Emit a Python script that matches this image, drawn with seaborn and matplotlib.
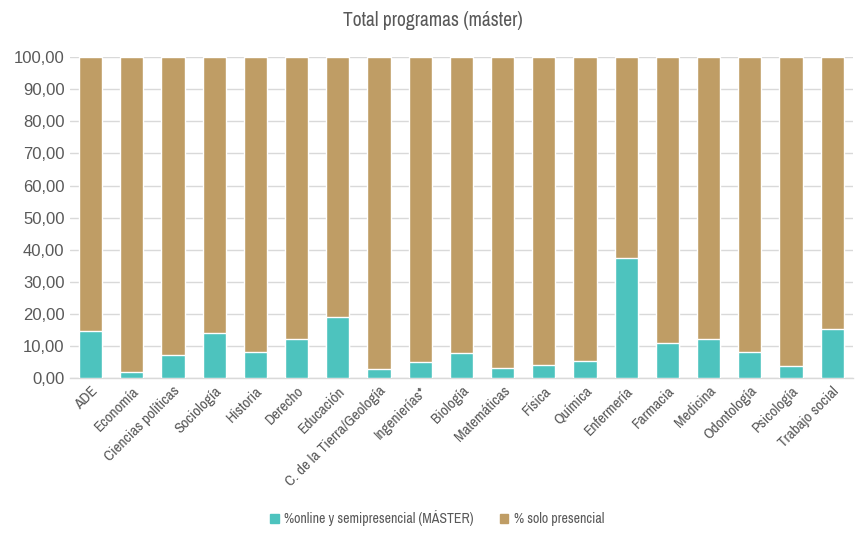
import pandas as pd
import matplotlib.pyplot as plt
import seaborn as sns
from matplotlib.patches import Patch
from matplotlib import font_manager

# --- Data ---
categories = ['ADE', 'Economía', 'Ciencias políticas', 'Sociología', 'Historia',
              'Derecho', 'Educación', 'C. de la Tierra/Geología', 'Ingenierías*',
              'Biología', 'Matemáticas', 'Física', 'Química', 'Enfermería',
              'Farmacia', 'Medicina', 'Odontología', 'Psicología', 'Trabajo social']
online = [14.6, 2.1, 7.3, 14.2, 8.3, 12.1, 19.2, 2.9, 5.2, 7.9,
          3.2, 4.1, 5.3, 37.6, 10.9, 12.2, 8.2, 3.9, 15.3]
presencial = [85.4, 97.9, 92.7, 85.8, 91.7, 87.9, 80.8, 97.1, 94.8, 92.1,
              96.8, 95.9, 94.7, 62.4, 89.1, 87.8, 91.8, 96.1, 84.7]
yticks = [0, 10, 20, 30, 40, 50, 60, 70, 80, 90, 100]

label_online = '%online y semipresencial (MÁSTER)'
label_pres = '% solo presencial'
teal = '#4DC3BE'
tan = '#BF9D65'
text_col = '#595959'

df = pd.DataFrame({'cat': categories, 'online': online, 'presencial': presencial})
df['total'] = df['online'] + df['presencial']

# look for a condensed face, otherwise just go smaller
cond = [f.name for f in font_manager.fontManager.ttflist
        if 'condensed' in f.name.lower() or 'narrow' in f.name.lower()]
narrow = [cond[0], 'DejaVu Sans'] if cond else ['DejaVu Sans']
lab_size = 11 if cond else 8

sns.set_theme(style='white')
plt.rcParams['font.family'] = ['Liberation Sans', 'DejaVu Sans']

fig = plt.figure(figsize=(8.66, 5.38), dpi=100)
ax = fig.add_axes([0.0808, 0.2968, 0.904, 0.597])

# stacked look: full bar in tan, online share drawn on top in teal
sns.barplot(data=df, x='cat', y='total', color=tan, width=0.56, saturation=1,
            ax=ax, zorder=2)
sns.barplot(data=df, x='cat', y='online', color=teal, width=0.56, saturation=1,
            ax=ax, zorder=3)

ax.set_xlim(-0.5, len(categories) - 0.5)
ax.set_ylim(0, 100)
ax.set_yticks(yticks)
ax.set_yticklabels([f'{v:.2f}'.replace('.', ',') for v in yticks],
                   fontsize=12, color=text_col)
ax.yaxis.grid(True, color='#d9d9d9', linewidth=1, zorder=0)
ax.set_axisbelow(True)
ax.set_xlabel('')
ax.set_ylabel('')
ax.tick_params(axis='both', length=0, pad=4)

ax.set_xticks(range(len(categories)))
ax.set_xticklabels(categories, rotation=45, ha='right', rotation_mode='anchor',
                   fontsize=lab_size, color=text_col, family=narrow,
                   fontstretch='condensed')

for s in ['top', 'right', 'left']:
    ax.spines[s].set_visible(False)
ax.spines['bottom'].set_color('#d9d9d9')
ax.spines['bottom'].set_linewidth(1)

fig.text(0.5, 0.962, 'Total programas (máster)', ha='center', va='center',
         fontsize=14 if cond else 12, color=text_col, family=narrow,
         fontstretch='condensed')

handles = [Patch(color=teal, label=label_online), Patch(color=tan, label=label_pres)]
fig.legend(handles=handles, loc='center', bbox_to_anchor=(0.505, 0.037), ncol=2,
           frameon=False, handlelength=0.6, handleheight=0.6, columnspacing=1.9,
           handletextpad=0.4,
           prop={'family': narrow, 'size': 10 if cond else 9, 'stretch': 'condensed'},
           labelcolor=text_col)

plt.savefig('out.png', dpi=100)
